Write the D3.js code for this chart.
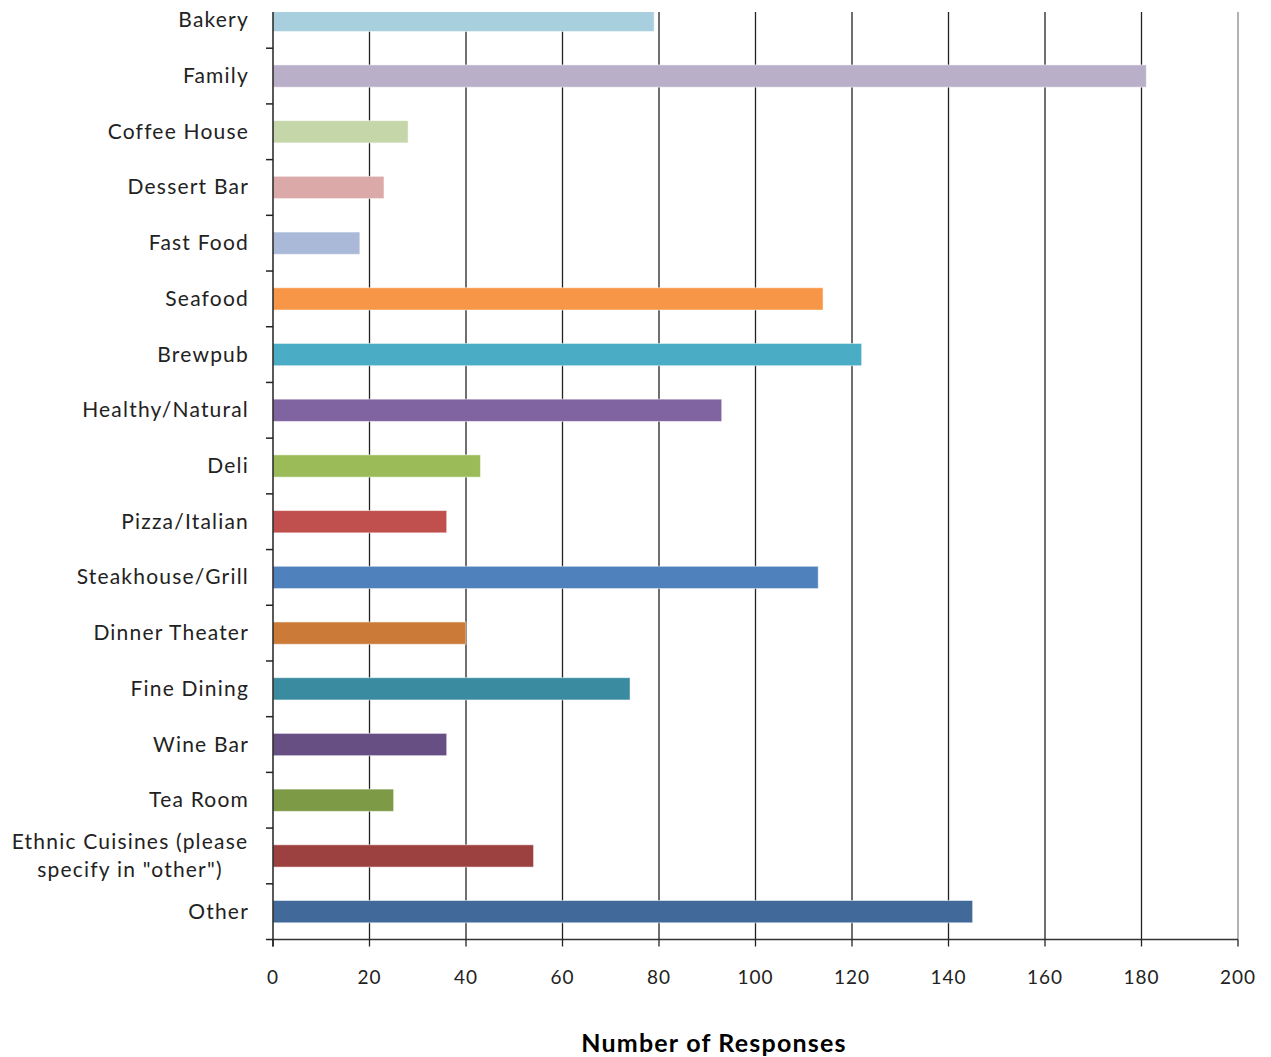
<!DOCTYPE html>
<html><head><meta charset="utf-8">
<script src="https://cdn.jsdelivr.net/npm/d3@7"></script>
<style>body{margin:0;background:#fff}</style>
</head><body>
<svg id="c" width="1271" height="1057"></svg>
<script>
const categories = ["Bakery","Family","Coffee House","Dessert Bar","Fast Food","Seafood","Brewpub","Healthy/Natural","Deli","Pizza/Italian","Steakhouse/Grill","Dinner Theater","Fine Dining","Wine Bar","Tea Room","Ethnic Cuisines (please\nspecify in \"other\")","Other"];
const values = [79,181,28,23,18,114,122,93,43,36,113,40,74,36,25,54,145];
const colors = ["#a8cfdd","#b9afc9","#c5d6a8","#dca9a9","#a9b9d7","#f79646","#4bacc6","#8064a2","#9bbb59","#c0504d","#4f81bd","#cb7a37","#3a8ba0","#674f84","#7d9a47","#9c413f","#416a9a"];
const xTicks = [0,20,40,60,80,100,120,140,160,180,200];
const xTitle = "Number of Responses";

const svg = d3.select("#c");
const font = "'Century Gothic','URW Gothic','Lato','DejaVu Sans',sans-serif";
const x0 = 273, x1 = 1238, yTop = -7.5, yBot = 939.5, visTop = 12;
const x = d3.scaleLinear().domain([0,200]).range([x0,x1]);
const y = d3.scaleBand().domain(categories).range([yTop,yBot]).paddingInner(0.6).paddingOuter(0.3);
const yb = d3.scaleBand().domain(categories).range([yTop,yBot]);

svg.append("defs").append("clipPath").attr("id","clip")
  .append("rect").attr("x",x0).attr("y",visTop).attr("width",x1-x0+2).attr("height",yBot-visTop);

// gridlines
svg.append("g").selectAll("line").data(xTicks.filter(d=>d>0)).join("line")
  .attr("x1",d=>x(d)).attr("x2",d=>x(d)).attr("y1",visTop).attr("y2",yBot)
  .attr("stroke",d=>d===200?"#8a8a8a":"#222").attr("stroke-width",1.3);

// bars
svg.append("g").attr("clip-path","url(#clip)").selectAll("rect").data(categories).join("rect")
  .attr("x",x(0)).attr("y",d=>y(d)).attr("height",y.bandwidth())
  .attr("width",(d,i)=>x(values[i])-x(0))
  .attr("fill",(d,i)=>colors[i]).attr("stroke","rgba(255,255,255,0.5)").attr("stroke-width",1);

// y axis line and ticks
svg.append("line").attr("x1",x0).attr("x2",x0).attr("y1",visTop).attr("y2",yBot+7).attr("stroke","#222").attr("stroke-width",1.5);
const bounds = categories.map(c=>yb(c)+yb.bandwidth()).filter(v=>v>visTop);
svg.append("g").selectAll("line").data(bounds).join("line")
  .attr("x1",x0-7).attr("x2",x0).attr("y1",d=>d).attr("y2",d=>d).attr("stroke","#222").attr("stroke-width",1.5);

// x axis line and ticks
svg.append("line").attr("x1",x0).attr("x2",x1).attr("y1",yBot).attr("y2",yBot).attr("stroke","#333").attr("stroke-width",1.5);
svg.append("g").selectAll("line").data(xTicks).join("line")
  .attr("x1",d=>x(d)).attr("x2",d=>x(d)).attr("y1",yBot).attr("y2",yBot+7).attr("stroke","#222").attr("stroke-width",1.3);
svg.append("g").selectAll("text").data(xTicks).join("text")
  .attr("x",d=>x(d)).attr("y",984).attr("text-anchor","middle")
  .attr("font-family",font).attr("font-size",19).attr("letter-spacing",1).attr("fill","#222").text(d=>d);

// category labels
categories.forEach((c,i)=>{
  const cy = y(c)+y.bandwidth()/2;
  const lines = c.split("\n");
  if (lines.length===1){
    svg.append("text").attr("x",249).attr("y",cy+7).attr("text-anchor","end")
      .attr("font-family",font).attr("font-size",21).attr("letter-spacing",1.2).attr("fill","#222").text(c);
  } else {
    lines.forEach((l,j)=>{
      svg.append("text").attr("x",130).attr("y",cy+7+(j-0.5)*28).attr("text-anchor","middle")
        .attr("font-family",font).attr("font-size",21).attr("letter-spacing",1.2).attr("fill","#222").text(l);
    });
  }
});

svg.append("text").attr("x",714).attr("y",1052).attr("text-anchor","middle")
  .attr("font-family",font).attr("font-size",25).attr("letter-spacing",1.2).attr("font-weight","bold").attr("fill","#000").text(xTitle);
</script>
</body></html>
